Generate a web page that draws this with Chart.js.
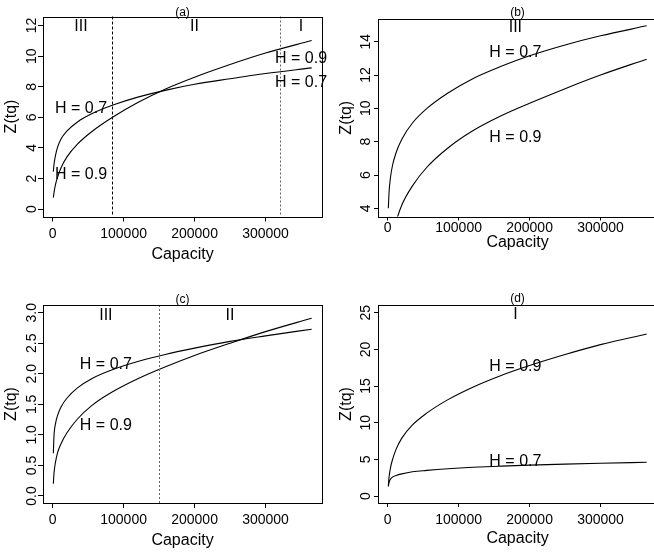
<!DOCTYPE html>
<html>
<head>
<meta charset="utf-8">
<script src="https://cdn.jsdelivr.net/npm/chart.js@4.4.0/dist/chart.umd.min.js"></script>
<style>
  html, body { margin: 0; padding: 0; background: #fff; overflow: hidden; width: 654px; height: 552px; }
  canvas { position: absolute; }
</style>
</head>
<body>
<canvas id="panelA" width="327" height="276" style="left:0px;top:0px"></canvas>
<canvas id="panelB" width="330" height="276" style="left:327px;top:0px"></canvas>
<canvas id="panelC" width="327" height="276" style="left:0px;top:276px"></canvas>
<canvas id="panelD" width="330" height="276" style="left:327px;top:276px"></canvas>
<script>
const FONT = "'Liberation Sans', Arial, Helvetica, sans-serif";
Chart.defaults.font.family = FONT;
Chart.defaults.color = '#000';

// Link capacity (x) shared by all four panels
const capacity = [1000, 2000, 4000, 7000, 12000, 20000, 35000, 55000, 85000, 120000, 160000, 200000, 250000, 300000, 365000];

// Z(tq) for Hurst parameter H = 0.7 and H = 0.9, one pair per panel
const zA_h07 = [2.45, 2.95, 3.5, 4.05, 4.6, 5.1, 5.7, 6.23, 6.8, 7.32, 7.78, 8.16, 8.52, 8.86, 9.23];
const zA_h09 = [0.75, 1.1, 1.6, 2.1, 2.72, 3.4, 4.25, 5.06, 6.02, 6.97, 7.87, 8.62, 9.45, 10.2, 11.02];
const zB_h07 = [4.0, 4.95, 5.85, 6.6, 7.35, 8.15, 9.12, 9.98, 10.92, 11.78, 12.52, 13.15, 13.8, 14.35, 14.95];
const zB_h09 = [0.5, 0.9, 1.6, 2.3, 3.2, 4.2, 5.35, 6.45, 7.62, 8.65, 9.55, 10.3, 11.18, 12.0, 12.95];
const zC_h07 = [0.7, 1.0, 1.18, 1.32, 1.46, 1.6, 1.77, 1.92, 2.07, 2.2, 2.32, 2.42, 2.53, 2.62, 2.73];
const zC_h09 = [0.2, 0.38, 0.55, 0.71, 0.86, 1.03, 1.26, 1.48, 1.71, 1.92, 2.12, 2.3, 2.5, 2.69, 2.91];
const zD_h07 = [1.3, 1.85, 2.3, 2.59, 2.8, 3.02, 3.3, 3.49, 3.72, 3.92, 4.08, 4.21, 4.35, 4.47, 4.6];
const zD_h09 = [1.4, 2.55, 3.85, 5.0, 6.4, 7.9, 9.7, 11.3, 13.15, 14.85, 16.45, 17.8, 19.3, 20.65, 22.1];

// Tick values
const xTicks = [0, 100000, 200000, 300000];
const yTicksA = [0, 2, 4, 6, 8, 10, 12];
const yTicksB = [4, 6, 8, 10, 12, 14];
const yTicksC = [0, 0.5, 1, 1.5, 2, 2.5, 3];
const yTicksD = [0, 5, 10, 15, 20, 25];

// Capacities separating the operating regimes
const regimeEdgesA = [83000, 320000];
const regimeEdgesC = [150000];

// Text placed in data coordinates
const notesA = { text: ['III', 'II', 'I', 'H = 0.7', 'H = 0.9', 'H = 0.9', 'H = 0.7'],
                 x: [40000, 200000, 350000, 40000, 40000, 350000, 350000],
                 y: [11.9, 11.9, 11.9, 6.6, 2.29, 9.82, 8.29] };
const notesB = { text: ['III', 'H = 0.7', 'H = 0.9'],
                 x: [180000, 180000, 180000],
                 y: [14.86, 13.35, 8.25] };
const notesC = { text: ['III', 'II', 'H = 0.7', 'H = 0.9'],
                 x: [75000, 250000, 75000, 75000],
                 y: [2.96, 2.96, 2.15, 1.15] };
const notesD = { text: ['I', 'H = 0.9', 'H = 0.7'],
                 x: [180000, 180000, 180000],
                 y: [24.8, 17.63, 4.67] };

const X_MIN = -13560, X_MAX = 379560;

// Frame, regime boundaries and in-plot text
const panelDecor = {
  id: 'panelDecor',
  afterDatasetsDraw(chart, args, opts) {
    const { ctx, chartArea: a } = chart;
    const xs = chart.scales.x, ys = chart.scales.y;
    ctx.save();
    ctx.lineWidth = 1;
    (opts.edges || []).forEach((v, i) => {
      const px = Math.round(xs.getPixelForValue(v)) + 0.5;
      ctx.strokeStyle = opts.edgeColors[i];
      ctx.setLineDash(opts.edgeDash[i]);
      ctx.beginPath();
      ctx.moveTo(px, a.top);
      ctx.lineTo(px, a.bottom);
      ctx.stroke();
    });
    ctx.setLineDash([]);
    const n = opts.notes;
    ctx.fillStyle = '#000';
    ctx.font = '16px ' + FONT;
    ctx.textAlign = 'center';
    ctx.textBaseline = 'middle';
    n.text.forEach((t, i) => {
      ctx.fillText(t, xs.getPixelForValue(n.x[i]), ys.getPixelForValue(n.y[i]));
    });
    ctx.strokeStyle = '#000';
    ctx.strokeRect(Math.round(a.left) + 0.5, Math.round(a.top) + 0.5,
                   Math.round(a.right - a.left), Math.round(a.bottom - a.top));
    ctx.restore();
  }
};

const measure = document.createElement('canvas').getContext('2d');
const intFmt = v => String(v);
const decFmt = v => Number(v).toFixed(1);

function buildPanel(id, p) {
  const cv = document.getElementById(id);
  const W = cv.width, H = cv.height, A = p.area;
  measure.font = '14px ' + FONT;
  const widest = Math.max(...p.yTicks.map(v => measure.measureText(p.fmt(v)).width));
  const lh = 2 * (A.top - p.titleY);
  const grid = { display: true, drawOnChartArea: false, drawTicks: true, tickLength: p.tick, color: '#000', lineWidth: 1 };
  return new Chart(cv, {
    type: 'line',
    data: {
      datasets: p.series.map(s => ({
        data: capacity.map((c, i) => ({ x: c, y: s[i] })),
        borderColor: '#000',
        borderWidth: 1.1,
        pointRadius: 0,
        fill: false,
        cubicInterpolationMode: 'monotone'
      }))
    },
    options: {
      responsive: false,
      animation: false,
      events: [],
      devicePixelRatio: 1,
      layout: { padding: { left: 0, top: 0, bottom: 0, right: W - A.right } },
      plugins: {
        legend: { display: false },
        tooltip: { enabled: false },
        title: {
          display: true, text: p.title, fullSize: false, color: '#000',
          font: { size: 12, weight: 'normal', lineHeight: lh + 'px' },
          padding: { top: p.titleY - lh / 2, bottom: 0 }
        },
        panelDecor: { edges: p.edges, edgeColors: p.edgeColors, edgeDash: p.edgeDash, notes: p.notes }
      },
      scales: {
        x: {
          type: 'linear', min: X_MIN, max: X_MAX,
          afterBuildTicks: s => { s.ticks = xTicks.map(v => ({ value: v })); },
          afterFit: s => { s.height = H - A.bottom; },
          ticks: { font: { size: 14 }, color: '#000', padding: p.xTickOff - p.tick - 8.4,
                   maxRotation: 0, minRotation: 0, autoSkip: false, callback: v => intFmt(v) },
          grid: grid,
          border: { display: false },
          title: { display: true, text: 'Capacity', color: '#000', font: { size: 16, weight: 'normal' },
                   padding: { top: 0, bottom: p.xTitleB - 9.6 } }
        },
        y: {
          type: 'linear', min: p.yMin, max: p.yMax,
          afterBuildTicks: s => { s.ticks = p.yTicks.map(v => ({ value: v })); },
          afterFit: s => { s.width = A.left; },
          ticks: { font: { size: 14 }, color: '#000', padding: A.left - p.tick - widest / 2 - p.yTickX,
                   minRotation: 90, maxRotation: 90, crossAlign: 'center', autoSkip: false,
                   callback: v => p.fmt(v) },
          grid: grid,
          border: { display: false },
          title: { display: true, text: 'Z(tq)', color: '#000', font: { size: 16, weight: 'normal' },
                   padding: { top: p.yTitleX - 9.6, bottom: 0 } }
        }
      }
    },
    plugins: [panelDecor]
  });
}

buildPanel('panelA', {
  title: '(a)', series: [zA_h07, zA_h09], yTicks: yTicksA, fmt: intFmt,
  yMin: -0.48, yMax: 12.59,
  area: { left: 43, right: 322, top: 16.5, bottom: 216.5 },
  titleY: 12.7, tick: 5, yTickX: 31.7, yTitleX: 12, xTickOff: 17.5, xTitleB: 21.7,
  edges: regimeEdgesA, edgeColors: ['#000', '#666'], edgeDash: [[3, 2], [2, 2]], notes: notesA
});
buildPanel('panelB', {
  title: '(b)', series: [zB_h07, zB_h09], yTicks: yTicksB, fmt: intFmt,
  yMin: 3.51, yMax: 15.36,
  area: { left: 51, right: 330, top: 19, bottom: 216.5 },
  titleY: 12.7, tick: 4, yTickX: 39, yTitleX: 19.5, xTickOff: 12, xTitleB: 33.3,
  edges: [], edgeColors: [], edgeDash: [], notes: notesB
});
buildPanel('panelC', {
  title: '(c)', series: [zC_h07, zC_h09], yTicks: yTicksC, fmt: decFmt,
  yMin: -0.115, yMax: 3.126,
  area: { left: 43, right: 322, top: 29, bottom: 227 },
  titleY: 23.3, tick: 5, yTickX: 32.5, yTitleX: 12, xTickOff: 17.5, xTitleB: 11.7,
  edges: regimeEdgesC, edgeColors: ['#666'], edgeDash: [[2, 2]], notes: notesC
});
buildPanel('panelD', {
  title: '(d)', series: [zD_h07, zD_h09], yTicks: yTicksD, fmt: intFmt,
  yMin: -0.955, yMax: 26.06,
  area: { left: 51, right: 330, top: 29, bottom: 227 },
  titleY: 22.7, tick: 4, yTickX: 39, yTitleX: 19.5, xTickOff: 17, xTitleB: 13.3,
  edges: [], edgeColors: [], edgeDash: [], notes: notesD
});
</script>
</body>
</html>
